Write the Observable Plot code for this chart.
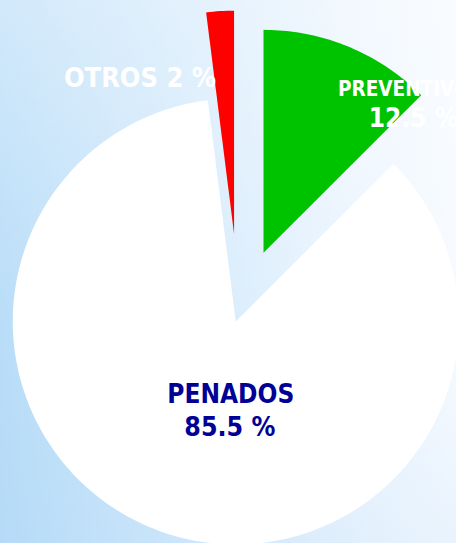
<!DOCTYPE html>
<html>
<head>
<meta charset="utf-8">
<script src="https://cdn.jsdelivr.net/npm/d3@7"></script>
<script src="https://cdn.jsdelivr.net/npm/@observablehq/plot@0.6"></script>
<style>
  html, body { margin: 0; padding: 0; }
  #chart {
    width: 456px; height: 543px; overflow: hidden;
    background:
      linear-gradient(to bottom, rgba(255,255,255,0.35), rgba(255,255,255,0) 60%, rgba(160,205,245,0.15)),
      linear-gradient(to right, #b9ddf8, #eef6fe 80%, #f6faff);
  }
  #chart svg { display: block; }
</style>
</head>
<body>
<div id="chart"></div>
<script>
// ---- data ----
const categories = ["PREVENTIVOS", "PENADOS", "OTROS"];
const values = [12.5, 85.5, 2];
const valueLabels = ["12.5 %", "85.5 %", "2 %"];

// ---- styles / layout ----
const sliceColors = {PREVENTIVOS: "#00c300", PENADOS: "#ffffff", OTROS: "#ff0000"};
const explodePx = {PREVENTIVOS: 64, PENADOS: 10, OTROS: 78.5};
const W = 456, H = 543, CX = 238.5, CY = 311.5, R = 223;
const FONT = "'DejaVu Sans Condensed', 'DejaVu Sans', Tahoma, sans-serif";

const rad = d => d * Math.PI / 180;
const total = d3.sum(values);
let cum = 0;
const slices = categories.map((name, i) => {
  const a0 = cum / total * 360;
  cum += values[i];
  const a1 = cum / total * 360;
  const mid = (a0 + a1) / 2;
  const e = explodePx[name] / R;
  return {name, a0, a1, ox: e * Math.sin(rad(mid)), oy: e * Math.cos(rad(mid))};
});
const byName = Object.fromEntries(slices.map(s => [s.name, s]));

// wedge outlines (apex + arc), angles clockwise from top
const pts = [];
for (const s of slices) {
  pts.push({name: s.name, x: s.ox, y: s.oy, color: sliceColors[s.name]});
  const n = Math.max(2, Math.ceil(s.a1 - s.a0));
  for (let k = 0; k <= n; k++) {
    const a = rad(s.a0 + (s.a1 - s.a0) * k / n);
    pts.push({name: s.name, x: s.ox + Math.sin(a), y: s.oy + Math.cos(a), color: sliceColors[s.name]});
  }
}

// label placement relative to slice apex (angle deg clockwise from top, distance px)
const polar = (name, ang, dist) => {
  const s = byName[name];
  return {x: s.ox + dist / R * Math.sin(rad(ang)), y: s.oy + dist / R * Math.cos(rad(ang))};
};
const labels = [
  {...polar("OTROS", -31.2, 181.5), text: `${categories[2]} ${valueLabels[2]}`, size: 27, color: "#ffffff"},
  {...polar("PREVENTIVOS", 42.0, 219.6), text: categories[0], size: 20.5, color: "#ffffff"},
  {...polar("PREVENTIVOS", 48.2, 201.2), text: valueLabels[0], size: 26, color: "#ffffff"},
  {...polar("PENADOS", 183.9, 73.7), text: categories[1], size: 26, color: "#000096"},
  {...polar("PENADOS", 183.2, 105.9), text: valueLabels[1], size: 26.5, color: "#000096"}
];

const textMarks = labels.map(l => Plot.text([l], {
  x: "x", y: "y", text: "text", fill: l.color, fontSize: l.size,
  fontWeight: "bold", fontFamily: FONT, textAnchor: "middle", lineAnchor: "middle"
}));

const chart = Plot.plot({
  width: W, height: H, margin: 0,
  x: {domain: [-CX / R, (W - CX) / R], range: [0, W], axis: null},
  y: {domain: [(CY - H) / R, CY / R], range: [H, 0], axis: null},
  color: {type: "identity"},
  style: {background: "transparent", overflow: "hidden", fontFamily: FONT},
  marks: [
    Plot.line(pts, {x: "x", y: "y", z: "name", fill: "color", stroke: "none", curve: "linear-closed"}),
    ...textMarks
  ]
});
document.getElementById("chart").appendChild(chart);
</script>
</body>
</html>
